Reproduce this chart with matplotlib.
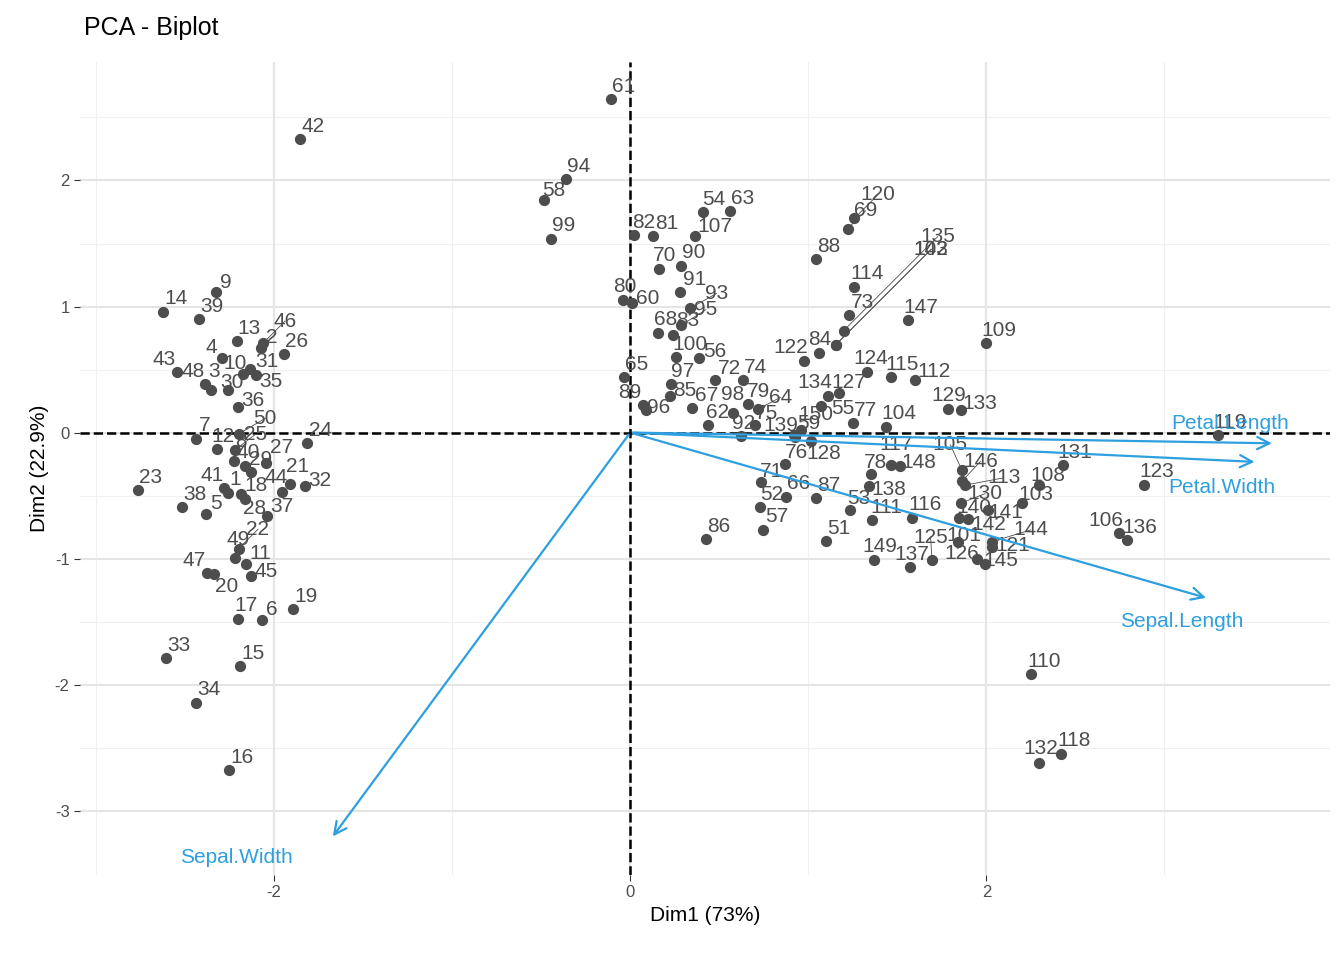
import numpy as np
import matplotlib
matplotlib.use("Agg")
import matplotlib.pyplot as plt

plt.rcParams['font.family'] = ['Liberation Sans', 'DejaVu Sans']
plt.rcParams['axes.unicode_minus'] = False

# iris measurements: sepal length, sepal width, petal length, petal width
sepal_length = [5.1,4.9,4.7,4.6,5.0,5.4,4.6,5.0,4.4,4.9,5.4,4.8,4.8,4.3,5.8,5.7,5.4,5.1,5.7,5.1,
                5.4,5.1,4.6,5.1,4.8,5.0,5.0,5.2,5.2,4.7,4.8,5.4,5.2,5.5,4.9,5.0,5.5,4.9,4.4,5.1,
                5.0,4.5,4.4,5.0,5.1,4.8,5.1,4.6,5.3,5.0,7.0,6.4,6.9,5.5,6.5,5.7,6.3,4.9,6.6,5.2,
                5.0,5.9,6.0,6.1,5.6,6.7,5.6,5.8,6.2,5.6,5.9,6.1,6.3,6.1,6.4,6.6,6.8,6.7,6.0,5.7,
                5.5,5.5,5.8,6.0,5.4,6.0,6.7,6.3,5.6,5.5,5.5,6.1,5.8,5.0,5.6,5.7,5.7,6.2,5.1,5.7,
                6.3,5.8,7.1,6.3,6.5,7.6,4.9,7.3,6.7,7.2,6.5,6.4,6.8,5.7,5.8,6.4,6.5,7.7,7.7,6.0,
                6.9,5.6,7.7,6.3,6.7,7.2,6.2,6.1,6.4,7.2,7.4,7.9,6.4,6.3,6.1,7.7,6.3,6.4,6.0,6.9,
                6.7,6.9,5.8,6.8,6.7,6.7,6.3,6.5,6.2,5.9]
sepal_width = [3.5,3.0,3.2,3.1,3.6,3.9,3.4,3.4,2.9,3.1,3.7,3.4,3.0,3.0,4.0,4.4,3.9,3.5,3.8,3.8,
               3.4,3.7,3.6,3.3,3.4,3.0,3.4,3.5,3.4,3.2,3.1,3.4,4.1,4.2,3.1,3.2,3.5,3.6,3.0,3.4,
               3.5,2.3,3.2,3.5,3.8,3.0,3.8,3.2,3.7,3.3,3.2,3.2,3.1,2.3,2.8,2.8,3.3,2.4,2.9,2.7,
               2.0,3.0,2.2,2.9,2.9,3.1,3.0,2.7,2.2,2.5,3.2,2.8,2.5,2.8,2.9,3.0,2.8,3.0,2.9,2.6,
               2.4,2.4,2.7,2.7,3.0,3.4,3.1,2.3,3.0,2.5,2.6,3.0,2.6,2.3,2.7,3.0,2.9,2.9,2.5,2.8,
               3.3,2.7,3.0,2.9,3.0,3.0,2.5,2.9,2.5,3.6,3.2,2.7,3.0,2.5,2.8,3.2,3.0,3.8,2.6,2.2,
               3.2,2.8,2.8,2.7,3.3,3.2,2.8,3.0,2.8,3.0,2.8,3.8,2.8,2.8,2.6,3.0,3.4,3.1,3.0,3.1,
               3.1,3.1,2.7,3.2,3.3,3.0,2.5,3.0,3.4,3.0]
petal_length = [1.4,1.4,1.3,1.5,1.4,1.7,1.4,1.5,1.4,1.5,1.5,1.6,1.4,1.1,1.2,1.5,1.3,1.4,1.7,1.5,
                1.7,1.5,1.0,1.7,1.9,1.6,1.6,1.5,1.4,1.6,1.6,1.5,1.5,1.4,1.5,1.2,1.3,1.4,1.3,1.5,
                1.3,1.3,1.3,1.6,1.9,1.4,1.6,1.4,1.5,1.4,4.7,4.5,4.9,4.0,4.6,4.5,4.7,3.3,4.6,3.9,
                3.5,4.2,4.0,4.7,3.6,4.4,4.5,4.1,4.5,3.9,4.8,4.0,4.9,4.7,4.3,4.4,4.8,5.0,4.5,3.5,
                3.8,3.7,3.9,5.1,4.5,4.5,4.7,4.4,4.1,4.0,4.4,4.6,4.0,3.3,4.2,4.2,4.2,4.3,3.0,4.1,
                6.0,5.1,5.9,5.6,5.8,6.6,4.5,6.3,5.8,6.1,5.1,5.3,5.5,5.0,5.1,5.3,5.5,6.7,6.9,5.0,
                5.7,4.9,6.7,4.9,5.7,6.0,4.8,4.9,5.6,5.8,6.1,6.4,5.6,5.1,5.6,6.1,5.6,5.5,4.8,5.4,
                5.6,5.1,5.1,5.9,5.7,5.2,5.0,5.2,5.4,5.1]
petal_width = [0.2,0.2,0.2,0.2,0.2,0.4,0.3,0.2,0.2,0.1,0.2,0.2,0.1,0.1,0.2,0.4,0.4,0.3,0.3,0.3,
               0.2,0.4,0.2,0.5,0.2,0.2,0.4,0.2,0.2,0.2,0.2,0.4,0.1,0.2,0.2,0.2,0.2,0.1,0.2,0.2,
               0.3,0.3,0.2,0.6,0.4,0.3,0.2,0.2,0.2,0.2,1.4,1.5,1.5,1.3,1.5,1.3,1.6,1.0,1.3,1.4,
               1.0,1.5,1.0,1.4,1.3,1.4,1.5,1.0,1.5,1.1,1.8,1.3,1.5,1.2,1.3,1.4,1.4,1.7,1.5,1.0,
               1.1,1.0,1.2,1.6,1.5,1.6,1.5,1.3,1.3,1.3,1.2,1.4,1.2,1.0,1.3,1.2,1.3,1.3,1.1,1.3,
               2.5,1.9,2.1,1.8,2.2,2.1,1.7,1.8,1.8,2.5,2.0,1.9,2.1,2.0,2.4,2.3,1.8,2.2,2.3,1.5,
               2.3,2.0,2.0,1.8,2.1,1.8,1.8,1.8,2.1,1.6,1.9,2.0,2.2,1.5,1.4,2.3,2.4,1.8,1.8,2.1,
               2.4,2.3,1.9,2.3,2.5,2.3,1.9,2.0,2.3,1.8]
var_names = ["Sepal.Length", "Sepal.Width", "Petal.Length", "Petal.Width"]
# label offsets from arrow tips, as in the reference
var_label_off = [(-0.15, -0.18), (-0.53, -0.15), (-0.25, 0.16), (-0.2, -0.2)]

X = np.column_stack([sepal_length, sepal_width, petal_length, petal_width])
Z = (X - X.mean(0)) / X.std(0, ddof=1)
U, S, Vt = np.linalg.svd(Z, full_matrices=False)
V = Vt.T[:, :2]
if V[2, 0] < 0: V[:, 0] *= -1
if V[1, 1] > 0: V[:, 1] *= -1
scores = Z @ V
sdev = S / np.sqrt(len(Z) - 1)
cor = V * sdev[:2]
expl = sdev**2 / (sdev**2).sum() * 100
arrow_scale = 3.65

# crude label repulsion (in pixel units)
xlim = (-3.09, 3.93); ylim = (-3.51, 2.94)
sx = 1250 / (xlim[1] - xlim[0]); sy = 813 / (ylim[1] - ylim[0])
P = np.column_stack([scores[:, 0] * sx, scores[:, 1] * sy])
labels = [str(i + 1) for i in range(len(P))]
W = np.array([9.5 * len(s) + 4 for s in labels]); H = 19.0
L = P + np.array([12.0, 12.0])
rng_dir = np.array([[np.cos(a), np.sin(a)] for a in np.linspace(0, 2 * np.pi, len(P), endpoint=False)])
for it in range(600):
    F = (P - L) * 0.02
    dx = L[:, None, 0] - L[None, :, 0]; dy = L[:, None, 1] - L[None, :, 1]
    ox = (W[:, None] + W[None, :]) / 2 - np.abs(dx); oy = H - np.abs(dy)
    ov = (ox > 0) & (oy > 0); np.fill_diagonal(ov, False)
    push = np.where(ov, np.minimum(ox, oy), 0)
    F[:, 0] += (push * np.sign(dx + 1e-6)).sum(1) * 0.15
    F[:, 1] += (push * np.sign(dy + 1e-6)).sum(1) * 0.15
    px = L[:, None, 0] - P[None, :, 0]; py = L[:, None, 1] - P[None, :, 1]
    ox = W[:, None] / 2 + 5 - np.abs(px); oy = H / 2 + 5 - np.abs(py)
    ov = (ox > 0) & (oy > 0)
    push = np.where(ov, np.minimum(ox, oy), 0)
    F[:, 0] += (push * np.sign(px + 1e-6)).sum(1) * 0.15
    F[:, 1] += (push * np.sign(py + 1e-6)).sum(1) * 0.15
    L += F
lab = np.column_stack([L[:, 0] / sx, L[:, 1] / sy])

fig = plt.figure(figsize=(13.44, 9.6), dpi=100)
ax = fig.add_axes([80/1344, 1 - 875/960, 1250/1344, 813/960])
for v in [-3, -1, 1, 3]:
    ax.axvline(v, color="#f0f0f0", lw=0.8, zorder=0)
for v in [-2.5, -1.5, -0.5, 0.5, 1.5, 2.5]:
    ax.axhline(v, color="#f0f0f0", lw=0.8, zorder=0)
for v in [-2, 0, 2]:
    ax.axvline(v, color="#e5e5e5", lw=1.5, zorder=0)
for v in [-3, -2, -1, 0, 1, 2]:
    ax.axhline(v, color="#e5e5e5", lw=1.5, zorder=0)
ax.axhline(0, color="black", ls="--", lw=1.8, zorder=1)
ax.axvline(0, color="black", ls="--", lw=1.8, zorder=1)

ax.scatter(scores[:, 0], scores[:, 1], s=50, color="#4d4d4d", zorder=3)
for i, (x, y) in enumerate(scores):
    lx, ly = lab[i]
    d = np.hypot(L[i, 0] - P[i, 0], L[i, 1] - P[i, 1])
    if d > 22:
        ax.plot([x, lx], [y, ly], color="#4d4d4d", lw=0.6, zorder=2)
    ax.text(lx, ly, labels[i], fontsize=15, color="#4d4d4d",
            ha="center", va="center", zorder=3)

blue = "#2E9FDF"
for name, (cx, cy), (ox_, oy_) in zip(var_names, cor, var_label_off):
    ex, ey = cx * arrow_scale, cy * arrow_scale
    ax.annotate("", xy=(ex, ey), xytext=(0, 0),
                arrowprops=dict(arrowstyle="->", color=blue, lw=1.6, mutation_scale=22), zorder=4)
    ax.text(ex + ox_, ey + oy_, name, color=blue, fontsize=15,
            ha="center", va="center", zorder=5)

ax.set_xlim(*xlim)
ax.set_ylim(*ylim)
ax.set_xticks([-2, 0, 2])
ax.set_yticks([-3, -2, -1, 0, 1, 2])
ax.tick_params(length=4, color="#333333", labelsize=12, labelcolor="#4d4d4d")
for s in ax.spines.values():
    s.set_visible(False)
ax.set_xlabel("Dim1 (%.0f%%)" % expl[0], fontsize=15)
ax.set_ylabel("Dim2 (%.1f%%)" % expl[1], fontsize=15)
fig.text(84/1344, 1 - 28/960, "PCA - Biplot", fontsize=18, va="center")

fig.savefig("out.png", dpi=100)
